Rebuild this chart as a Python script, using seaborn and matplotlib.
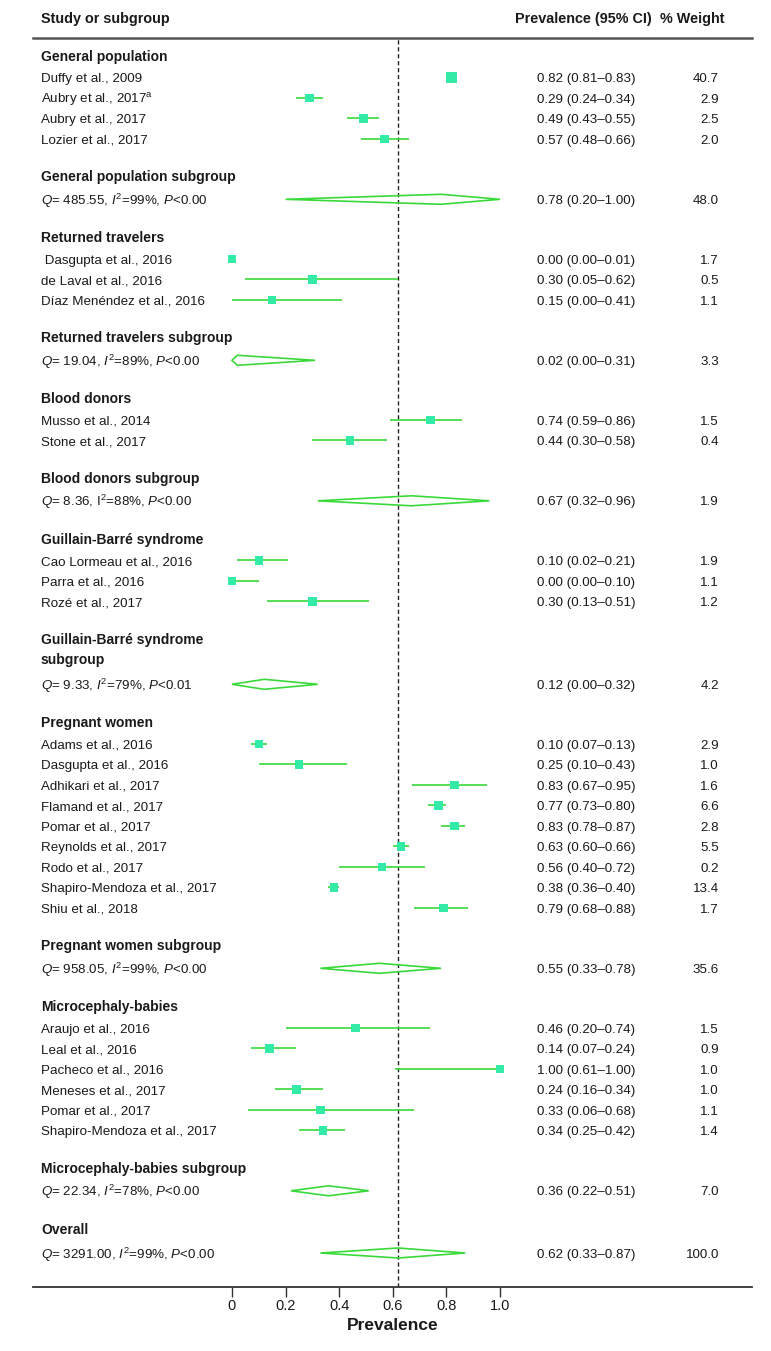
import numpy as np
import pandas as pd
import matplotlib
matplotlib.use("Agg")
import matplotlib.pyplot as plt
import seaborn as sns

# ---------------- data ----------------
group_names = ["General population", "Returned travelers", "Blood donors",
               "Guillain-Barré syndrome", "Pregnant women", "Microcephaly-babies"]
subgroup_titles = ["General population subgroup", "Returned travelers subgroup",
                   "Blood donors subgroup", "Guillain-Barré syndrome\nsubgroup",
                   "Pregnant women subgroup", "Microcephaly-babies subgroup"]

gp_studies = ["Duffy et al., 2009", "Aubry et al., 2017$^{\\mathrm{a}}$", "Aubry et al., 2017", "Lozier et al., 2017"]
gp_est = [0.82, 0.29, 0.49, 0.57]
gp_lo = [0.81, 0.24, 0.43, 0.48]
gp_hi = [0.83, 0.34, 0.55, 0.66]
gp_w = [40.7, 2.9, 2.5, 2.0]

rt_studies = [" Dasgupta et al., 2016", "de Laval et al., 2016", "Díaz Menéndez et al., 2016"]
rt_est = [0.00, 0.30, 0.15]
rt_lo = [0.00, 0.05, 0.00]
rt_hi = [0.01, 0.62, 0.41]
rt_w = [1.7, 0.5, 1.1]

bd_studies = ["Musso et al., 2014", "Stone et al., 2017"]
bd_est = [0.74, 0.44]
bd_lo = [0.59, 0.30]
bd_hi = [0.86, 0.58]
bd_w = [1.5, 0.4]

gbs_studies = ["Cao Lormeau et al., 2016", "Parra et al., 2016", "Rozé et al., 2017"]
gbs_est = [0.10, 0.00, 0.30]
gbs_lo = [0.02, 0.00, 0.13]
gbs_hi = [0.21, 0.10, 0.51]
gbs_w = [1.9, 1.1, 1.2]

pw_studies = ["Adams et al., 2016", "Dasgupta et al., 2016", "Adhikari et al., 2017",
              "Flamand et al., 2017", "Pomar et al., 2017", "Reynolds et al., 2017",
              "Rodo et al., 2017", "Shapiro-Mendoza et al., 2017", "Shiu et al., 2018"]
pw_est = [0.10, 0.25, 0.83, 0.77, 0.83, 0.63, 0.56, 0.38, 0.79]
pw_lo = [0.07, 0.10, 0.67, 0.73, 0.78, 0.60, 0.40, 0.36, 0.68]
pw_hi = [0.13, 0.43, 0.95, 0.80, 0.87, 0.66, 0.72, 0.40, 0.88]
pw_w = [2.9, 1.0, 1.6, 6.6, 2.8, 5.5, 0.2, 13.4, 1.7]

mb_studies = ["Araujo et al., 2016", "Leal et al., 2016", "Pacheco et al., 2016",
              "Meneses et al., 2017", "Pomar et al., 2017", "Shapiro-Mendoza et al., 2017"]
mb_est = [0.46, 0.14, 1.00, 0.24, 0.33, 0.34]
mb_lo = [0.20, 0.07, 0.61, 0.16, 0.06, 0.25]
mb_hi = [0.74, 0.24, 1.00, 0.34, 0.68, 0.42]
mb_w = [1.5, 0.9, 1.0, 1.0, 1.1, 1.4]

sub_est = [0.78, 0.02, 0.67, 0.12, 0.55, 0.36]
sub_lo = [0.20, 0.00, 0.32, 0.00, 0.33, 0.22]
sub_hi = [1.00, 0.31, 0.96, 0.32, 0.78, 0.51]
sub_w = [48.0, 3.3, 1.9, 4.2, 35.6, 7.0]
sub_q = ["485.55", "19.04", "8.36", "9.33", "958.05", "22.34"]
sub_i2 = ["99", "89", "88", "79", "99", "78"]
sub_p = ["<0.00", "<0.00", "<0.00", "<0.01", "<0.00", "<0.00"]

overall_est, overall_lo, overall_hi, overall_w = 0.62, 0.33, 0.87, 100.0
overall_q, overall_i2, overall_p = "3291.00", "99", "<0.00"

x_ticks = [0, 0.2, 0.4, 0.6, 0.8, 1.0]
x_ticklabels = ["0", "0.2", "0.4", "0.6", "0.8", "1.0"]

groups = [
    (gp_studies, gp_est, gp_lo, gp_hi, gp_w),
    (rt_studies, rt_est, rt_lo, rt_hi, rt_w),
    (bd_studies, bd_est, bd_lo, bd_hi, bd_w),
    (gbs_studies, gbs_est, gbs_lo, gbs_hi, gbs_w),
    (pw_studies, pw_est, pw_lo, pw_hi, pw_w),
    (mb_studies, mb_est, mb_lo, mb_hi, mb_w),
]

# ---------------- style ----------------
sns.set_theme(style="white")
FAM = ["Liberation Sans", "DejaVu Sans"]
plt.rcParams["font.family"] = FAM
plt.rcParams["mathtext.fontset"] = "custom"
plt.rcParams["mathtext.rm"] = "Liberation Sans"
plt.rcParams["mathtext.it"] = "Liberation Sans:italic"
plt.rcParams["mathtext.bf"] = "Liberation Sans:bold"

SQ_COLOR = "#33EAA6"
LN_COLOR = "#3AD93A"
TXT = "#1a1a1a"
FS = 9.6
FS_B = 10.0
BL = 4.6   # baseline offset below row centre (px units)

W, H = 771, 1351
fig = plt.figure(figsize=(W / 100, H / 100), dpi=100)
X0, X1 = 33, 752       # axes horizontal extent (px)
Y0, Y1 = 38, 1287      # axes vertical extent (px from top)
ax = fig.add_axes([X0 / W, 1 - Y1 / H, (X1 - X0) / W, (Y1 - Y0) / H])
ZERO_PX, ONE_PX = 232, 500
scale = ONE_PX - ZERO_PX
ax.set_xlim((X0 - ZERO_PX) / scale, (X1 - ZERO_PX) / scale)
ax.set_ylim(Y1, Y0)


def px(xp):
    return (xp - ZERO_PX) / scale


def row_text(x, y, s, ha="left", bold=False, size=None, clip=True, dy=0.0):
    ax.text(x, y + BL + dy, s, fontsize=size if size else (FS_B if bold else FS),
            fontweight="bold" if bold else "normal", va="baseline", ha=ha,
            color=TXT, clip_on=clip)


X_LABEL = px(41)
X_CI = px(537)
X_W = px(719)

# layout (vertical positions in px-like units)
a_gap, s_step, g_gap, t_gap, G_gap, line2 = 21.5, 20.5, 37.8, 22.5, 38.2, 20.0

rows_study = []
y = 56.0
for gi, (names, est, lo, hi, w) in enumerate(groups):
    row_text(X_LABEL, y, group_names[gi], bold=True)
    y += a_gap
    for k in range(len(names)):
        rows_study.append(dict(name=names[k], est=est[k], lo=lo[k], hi=hi[k], w=w[k], y=y))
        if k < len(names) - 1:
            y += s_step
    y += g_gap
    title = subgroup_titles[gi]
    row_text(X_LABEL, y, title.split("\n")[0], bold=True)
    if "\n" in title:
        y += line2
        row_text(X_LABEL, y, title.split("\n")[1], bold=True)
        y += 25
    else:
        y += t_gap
    i_sym = r"$\mathrm{I}^2$" if gi == 2 else r"$I^2$"
    qtxt = r"$Q$= " + sub_q[gi] + ", " + i_sym + "=" + sub_i2[gi] + "%, " + r"$P$" + sub_p[gi]
    row_text(X_LABEL, y, qtxt, dy=1.0)
    e, l, h = sub_est[gi], sub_lo[gi], sub_hi[gi]
    ax.fill([l, e, h, e], [y, y - 5, y, y + 5], facecolor="none",
            edgecolor=LN_COLOR, lw=1.2, zorder=4)
    row_text(X_CI, y, f"{e:.2f} ({l:.2f}–{h:.2f})")
    row_text(X_W, y, f"{sub_w[gi]:.1f}", ha="right")
    y += G_gap

# overall
row_text(X_LABEL, y, "Overall", bold=True)
y += 24
qtxt = r"$Q$= " + overall_q + ", " + r"$I^2$" + "=" + overall_i2 + "%, " + r"$P$" + overall_p
row_text(X_LABEL, y, qtxt, dy=1.0)
ax.fill([overall_lo, overall_est, overall_hi, overall_est], [y, y - 5, y, y + 5],
        facecolor="none", edgecolor=LN_COLOR, lw=1.2, zorder=4)
row_text(X_CI, y, f"{overall_est:.2f} ({overall_lo:.2f}–{overall_hi:.2f})")
row_text(X_W, y, f"{overall_w:.1f}", ha="right")

df = pd.DataFrame(rows_study)
df["size"] = np.where(df["w"] > 20, 60, 38)

for _, r in df.iterrows():
    ax.plot([r["lo"], r["hi"]], [r["y"], r["y"]], color=LN_COLOR, lw=1.2, zorder=3,
            solid_capstyle="butt")
    row_text(X_LABEL, r["y"], r["name"])
    row_text(X_CI, r["y"], f"{r['est']:.2f} ({r['lo']:.2f}–{r['hi']:.2f})")
    row_text(X_W, r["y"], f"{r['w']:.1f}", ha="right")

sns.scatterplot(data=df, x="est", y="y", size="size", sizes=(38, 60), marker="s",
                color=SQ_COLOR, edgecolor="none", linewidth=0, legend=False, ax=ax, zorder=5)

# reference line
ax.axvline(overall_est, color="#222222", ls=(0, (3, 2)), lw=1.0, zorder=2)

# headers
HF = 10.4
row_text(X_LABEL, 18, "Study or subgroup", bold=True, size=HF, clip=False)
row_text(px(652), 18, "Prevalence (95% CI)", ha="right", bold=True, size=HF, clip=False)
row_text(px(725), 18, "% Weight", ha="right", bold=True, size=HF, clip=False)

# spines / axis
for s in ["left", "right"]:
    ax.spines[s].set_visible(False)
ax.spines["top"].set_color("#555555")
ax.spines["top"].set_linewidth(1.8)
ax.spines["bottom"].set_color("#333333")
ax.spines["bottom"].set_linewidth(1.3)
ax.set_yticks([])
ax.set_xticks(x_ticks)
ax.set_xticklabels(x_ticklabels, fontsize=10.5)
ax.tick_params(axis="x", direction="out", length=7, width=1, color="#333333",
               bottom=True, top=False, pad=2, labelcolor=TXT)
ax.set_xlabel("Prevalence", fontsize=12.5, fontweight="bold", labelpad=3, color=TXT)
ax.set_ylabel("")
ax.grid(False)

fig.savefig("out.png", dpi=100)
